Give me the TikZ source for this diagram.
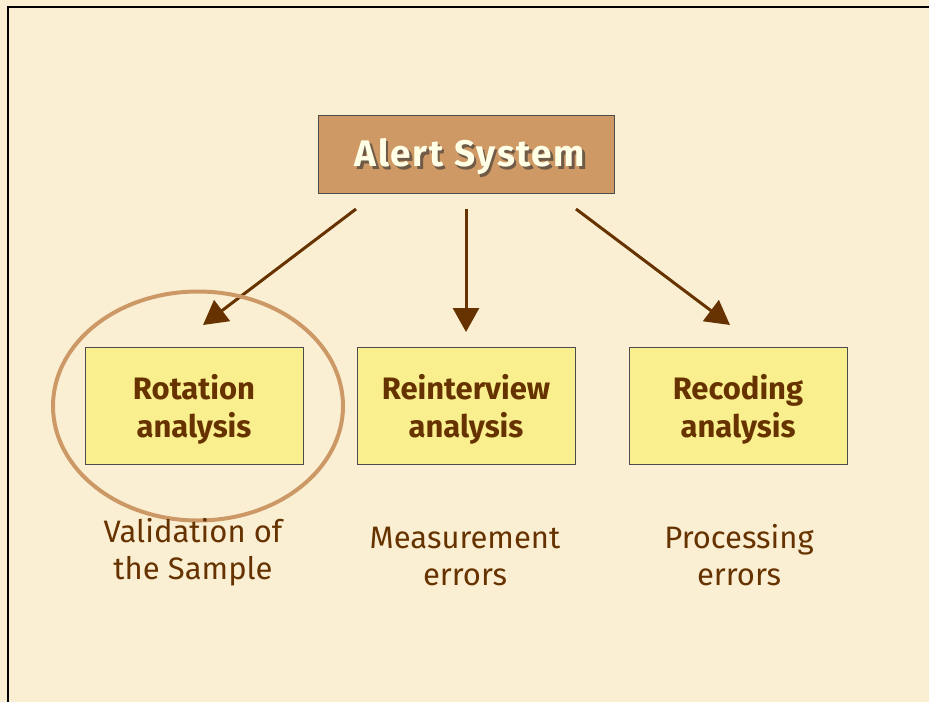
\documentclass[tikz,border=0pt]{standalone}
\usepackage{fontspec}
\setmainfont{Fira Sans}
\newfontfamily\alertfont[LetterSpace=4.5]{Fira Sans}
\usetikzlibrary{arrows.meta,shapes.geometric}
\definecolor{parch}{HTML}{FBEFD3}
\definecolor{tan}{HTML}{CF9966}
\definecolor{brownc}{HTML}{663300}
\definecolor{yellowbox}{HTML}{F9EF8E}
\definecolor{cream}{HTML}{FFFFE6}
\definecolor{ringc}{HTML}{CC9966}
\definecolor{shadowc}{HTML}{6E5A46}
\tikzset{
  px/.style={x=1pt,y=-1pt},
  ybox/.style={draw=black!70,line width=0.8pt,fill=yellowbox,minimum width=218pt,minimum height=117pt,inner sep=0pt},
  boxtxt/.style={text=brownc,font=\fontsize{31}{38}\selectfont\bfseries,align=center,inner sep=0pt},
  lowtxt/.style={text=brownc,font=\fontsize{31}{37}\selectfont,align=center,inner sep=0pt},
  arr/.style={draw=brownc,line width=3pt,-{Triangle[length=24pt,width=26pt]}},
}
\begin{document}
\begin{tikzpicture}[px]
\useasboundingbox (0,0) rectangle (929,702);
\fill[parch] (0,0) rectangle (929,702);
\draw[black,line width=2pt] (8,702) -- (8,7) -- (929,7);
% top box
\node[draw=black!70,line width=0.8pt,fill=tan,minimum width=296pt,minimum height=78pt,inner sep=0pt] (alert) at (466,154) {};
\node[text=cream,font=\alertfont\fontsize{37}{40}\selectfont\bfseries] (alerttxt) at (470,158)
  {\rlap{\raisebox{-2.5pt}{\kern2.5pt\textcolor{shadowc}{Alert System}}}Alert System};
% lower boxes
\node[ybox] (rot) at (194,406) {};
\node[ybox] (rei) at (466,406) {};
\node[ybox] (rec) at (738,406) {};
\node[boxtxt] (rottxt) at (194,409) {Rotation\\analysis};
\node[boxtxt] (reitxt) at (466,409) {Reinterview\\analysis};
\node[boxtxt] (rectxt) at (738,409) {Recoding\\analysis};
% arrow ends
\coordinate (a1s) at (356,209);
\coordinate (a1e) at (203,325);
\coordinate (a2s) at (466,209);
\coordinate (a2e) at (466,332);
\coordinate (a3s) at (576,209);
\coordinate (a3e) at (730,325);
\draw[arr] (a1s) -- (a1e);
\draw[arr] (a2s) -- (a2e);
\draw[arr] (a3s) -- (a3e);
% ring
\node[draw=ringc,line width=4pt,ellipse,minimum width=290pt,minimum height=229pt,inner sep=0pt] (ring) at (198,406) {};
% lower texts
\node[lowtxt] (t1) at (193,552) {Validation of\\the Sample};
\node[lowtxt] (t2) at (465,556) {Measurement\\errors};
\node[lowtxt] (t3) at (739,555) {Processing\\errors};
\end{tikzpicture}
\end{document}
